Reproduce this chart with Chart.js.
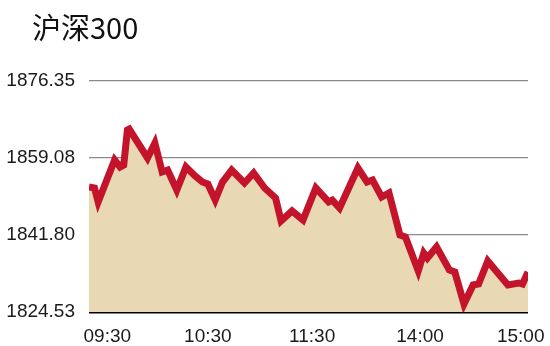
<!DOCTYPE html>
<html>
<head>
<meta charset="utf-8">
<script src="https://cdn.jsdelivr.net/npm/chart.js@4/dist/chart.umd.min.js"></script>
<style>
  html, body { margin: 0; padding: 0; background: #fff; }
  #wrap { position: relative; width: 550px; height: 346px; }
  #title {
    position: absolute; left: 32px; top: 6px;
    font-family: "Noto Sans CJK SC", "Liberation Sans", sans-serif;
    font-size: 29px; color: #111; line-height: 40px;
  }
</style>
</head>
<body>
<div id="wrap">
  <div id="title">沪深300</div>
  <canvas id="c" width="550" height="346"></canvas>
</div>
<script>
// 分钟数（从 09:30 起算，午休已去掉，共 240 分钟）与对应点位
const minutes = [0, 3, 5, 14, 17, 19, 21, 22, 32, 36, 40, 43, 48, 53, 58, 62, 65, 69, 73, 78,
  85, 90, 96, 102, 105, 111, 117, 124, 131, 133, 137, 147, 152, 155, 160, 164, 170, 173, 180, 183,
  185, 190, 197, 200, 205, 210, 213, 218, 229, 235, 237, 240];
const values = [1852.57, 1852.35, 1849.21, 1858.63, 1857.06, 1857.51, 1865.36, 1865.58, 1859.08, 1862.44,
  1855.94, 1856.38, 1851.90, 1857.06, 1855.04, 1853.69, 1853.24, 1849.65, 1853.69, 1856.38,
  1853.47, 1855.71, 1852.35, 1850.10, 1844.94, 1847.19, 1845.17, 1852.35, 1849.21, 1849.65,
  1847.86, 1856.83, 1853.69, 1854.14, 1850.33, 1851.23, 1841.80, 1841.35, 1833.73, 1837.77,
  1836.64, 1839.11, 1833.95, 1833.50, 1826.32, 1830.59, 1830.81, 1835.97, 1830.59, 1831.04,
  1830.81, 1833.50];

// 纵轴刻度
const yTicks = [1824.53, 1841.80, 1859.08, 1876.35];
// 横轴刻度：标签及其摆放位置（分钟）
const xTickLabels = ['09:30', '10:30', '11:30', '14:00', '15:00'];
const xTickAt = [10, 65, 122, 181, 236];

const LINE_RED = '#c3142b';
const FILL_TAN = '#e8d9b4';
const tickFont = { family: '"Liberation Sans", Arial, sans-serif', size: 19 };

new Chart(document.getElementById('c').getContext('2d'), {
  type: 'line',
  data: {
    datasets: [{
      data: minutes.map((m, i) => ({ x: m, y: values[i] })),
      borderColor: LINE_RED,
      backgroundColor: FILL_TAN,
      borderWidth: 7,
      borderJoinStyle: 'miter',
      pointRadius: 0,
      tension: 0,
      fill: 'start'
    }]
  },
  options: {
    responsive: false,
    animation: false,
    layout: { padding: { top: 81, right: 22, left: 0, bottom: 0 } },
    plugins: { legend: { display: false }, tooltip: { enabled: false } },
    scales: {
      x: {
        type: 'linear',
        min: 0,
        max: 240,
        afterFit: s => { s.height = 34; },
        afterBuildTicks: s => { s.ticks = xTickAt.map(v => ({ value: v })); },
        ticks: {
          autoSkip: false,
          maxRotation: 0,
          padding: 5,
          color: '#1a1a1a',
          font: tickFont,
          callback: (v) => xTickLabels[xTickAt.indexOf(v)]
        },
        grid: { display: false },
        border: { display: false }
      },
      y: {
        min: yTicks[0],
        max: yTicks[yTicks.length - 1],
        afterFit: s => { s.width = 89; },
        afterBuildTicks: s => { s.ticks = yTicks.map(v => ({ value: v })); },
        ticks: {
          padding: 14,
          color: '#1a1a1a',
          font: tickFont,
          callback: v => v.toFixed(2)
        },
        grid: {
          drawTicks: false,
          color: c => (c.tick && c.tick.value === yTicks[0]) ? '#000' : '#8a8a8a',
          lineWidth: c => (c.tick && c.tick.value === yTicks[0]) ? 2.5 : 1.2
        },
        border: { display: false }
      }
    }
  }
});
</script>
</body>
</html>
